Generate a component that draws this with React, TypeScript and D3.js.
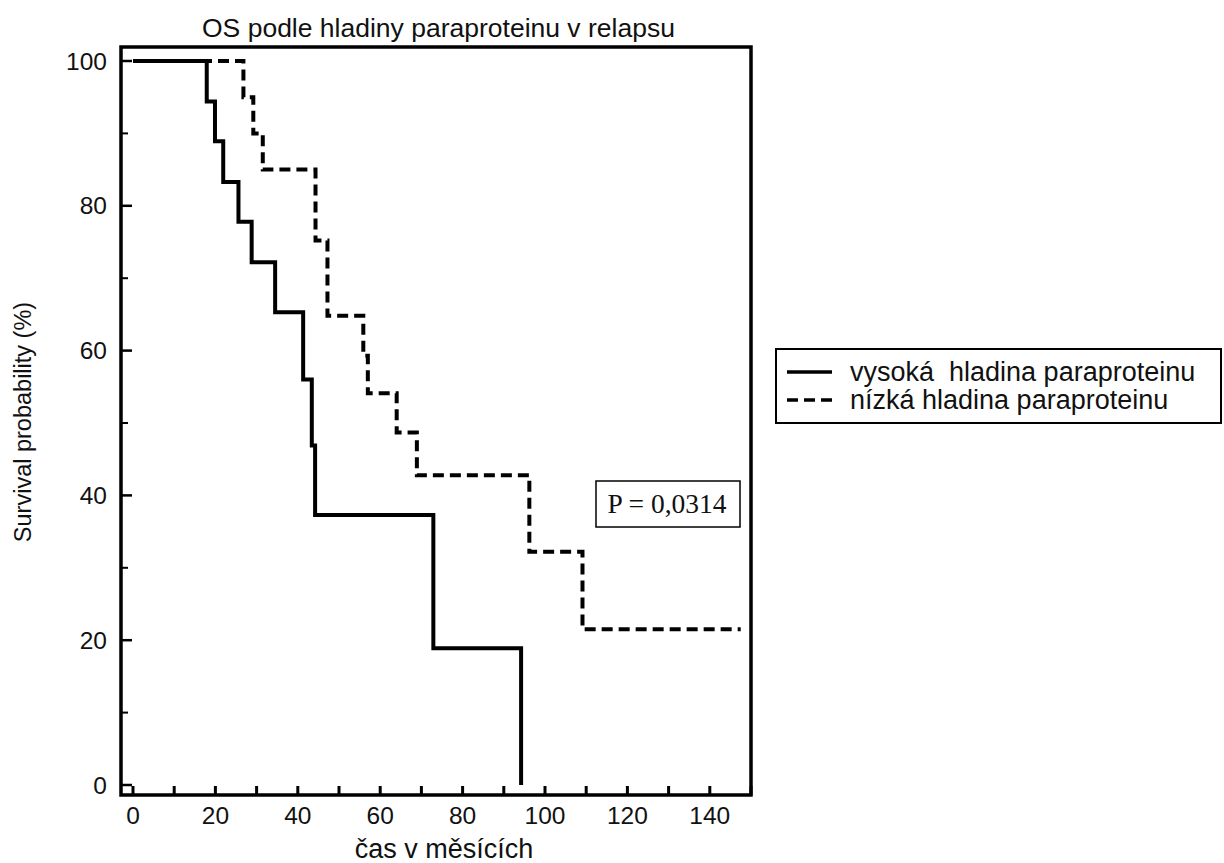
import React from "react";
import * as d3 from "d3";

const title = "OS podle hladiny paraproteinu v relapsu";
const xLabel = "čas v měsících";
const yLabel = "Survival probability (%)";
const pText = "P = 0,0314";

const xTicksMajor = [0, 20, 40, 60, 80, 100, 120, 140];
const xTicksAll = [0, 10, 20, 30, 40, 50, 60, 70, 80, 90, 100, 110, 120, 130, 140, 150];
const yTicksMajor = [0, 20, 40, 60, 80, 100];
const yTicksMinor = [10, 30, 50, 70, 90];

// high paraprotein: event times and survival after each step
const highTimes = [0, 17.9, 19.9, 21.9, 25.6, 28.8, 34.5, 41.3, 43.4, 44.2, 72.9, 94.2];
const highSurv = [100, 94.4, 88.9, 83.3, 77.8, 72.2, 65.3, 56.0, 46.9, 37.3, 18.9, 0];
const highEnd = 94.2;

// low paraprotein
const lowTimes = [0, 26.8, 29.2, 31.5, 44.3, 47.2, 55.9, 57.0, 64.0, 68.9, 96.2, 109.1];
const lowSurv = [100, 95.0, 90.0, 85.0, 75.2, 64.8, 59.3, 54.1, 48.7, 42.8, 32.2, 21.5];
const lowEnd = 147.5;

const legendLabels = ["vysoká  hladina paraproteinu", "nízká hladina paraproteinu"];

const W = 1224;
const H = 863;
const frame = { left: 121, right: 751, top: 47, bottom: 795 };

export default function App() {
  const x = d3.scaleLinear().domain([0, 150]).range([133, 751]);
  const y = d3.scaleLinear().domain([0, 100]).range([785, 61]);

  const stepPath = (times: number[], surv: number[], end: number) => {
    const pts: [number, number][] = times.map((t, i) => [t, surv[i]]);
    pts.push([end, surv[surv.length - 1]]);
    const line = d3
      .line<[number, number]>()
      .x((d) => x(d[0]))
      .y((d) => y(d[1]))
      .curve(d3.curveStepAfter);
    return line(pts) || "";
  };

  const sans = "'Liberation Sans', Arial, sans-serif";

  return (
    <svg
      width={W}
      height={H}
      style={{ position: "absolute", left: 0, top: 0, background: "#fff" }}
      xmlns="http://www.w3.org/2000/svg"
    >
      <rect x={0} y={0} width={W} height={H} fill="#fff" />
      <text x={202} y={37} fontFamily={sans} fontSize={26.5} fill="#111">
        {title}
      </text>

      {/* ticks */}
      {xTicksAll.map((t) => (
        <line
          key={"xt" + t}
          x1={x(t)}
          x2={x(t)}
          y1={frame.bottom}
          y2={frame.bottom - 9}
          stroke="#000"
          strokeWidth={3}
        />
      ))}
      {yTicksMajor.map((t) => (
        <line
          key={"ytM" + t}
          x1={frame.left}
          x2={frame.left + 11}
          y1={y(t)}
          y2={y(t)}
          stroke="#000"
          strokeWidth={2.5}
        />
      ))}
      {yTicksMinor.map((t) => (
        <line
          key={"ytm" + t}
          x1={frame.left}
          x2={frame.left + 7}
          y1={y(t)}
          y2={y(t)}
          stroke="#000"
          strokeWidth={2}
        />
      ))}

      {/* curves */}
      <path
        d={stepPath(highTimes, highSurv, highEnd)}
        fill="none"
        stroke="#000"
        strokeWidth={4}
      />
      <path
        d={stepPath(lowTimes, lowSurv, lowEnd)}
        fill="none"
        stroke="#000"
        strokeWidth={4}
        strokeDasharray="11 6"
      />

      {/* frame */}
      <rect
        x={frame.left}
        y={frame.top}
        width={frame.right - frame.left}
        height={frame.bottom - frame.top}
        fill="none"
        stroke="#000"
        strokeWidth={3.5}
      />

      {/* tick labels */}
      {xTicksMajor.map((t) => (
        <text
          key={"xl" + t}
          x={x(t)}
          y={824}
          textAnchor="middle"
          fontFamily={sans}
          fontSize={24.5}
          fill="#111"
        >
          {t}
        </text>
      ))}
      {yTicksMajor.map((t) => (
        <text
          key={"yl" + t}
          x={107}
          y={y(t) + 8.5}
          textAnchor="end"
          fontFamily={sans}
          fontSize={24.5}
          fill="#111"
        >
          {t}
        </text>
      ))}

      <text
        x={444}
        y={858}
        textAnchor="middle"
        fontFamily={sans}
        fontSize={27}
        fill="#111"
      >
        {xLabel}
      </text>
      <text
        transform={`translate(31,422) rotate(-90)`}
        textAnchor="middle"
        fontFamily={sans}
        fontSize={23.5}
        fill="#111"
      >
        {yLabel}
      </text>

      {/* p-value box */}
      <rect x={596} y={481} width={144} height={46} fill="#fff" stroke="#000" strokeWidth={1.5} />
      <text
        x={667}
        y={513}
        textAnchor="middle"
        fontFamily="'Liberation Serif', 'Times New Roman', serif"
        fontSize={27.5}
        fill="#111"
      >
        {pText}
      </text>

      {/* legend */}
      <rect x={776} y={349} width={445} height={74} fill="#fff" stroke="#000" strokeWidth={2} />
      <line x1={787} x2={832} y1={372} y2={372} stroke="#000" strokeWidth={3.5} />
      <line x1={787} x2={832} y1={400} y2={400} stroke="#000" strokeWidth={3.5} strokeDasharray="11 6" />
      <text x={850} y={381} fontFamily={sans} fontSize={27} fill="#111" style={{ whiteSpace: "pre" }}>
        {legendLabels[0]}
      </text>
      <text x={850} y={409} fontFamily={sans} fontSize={27} fill="#111" style={{ whiteSpace: "pre" }}>
        {legendLabels[1]}
      </text>
    </svg>
  );
}
